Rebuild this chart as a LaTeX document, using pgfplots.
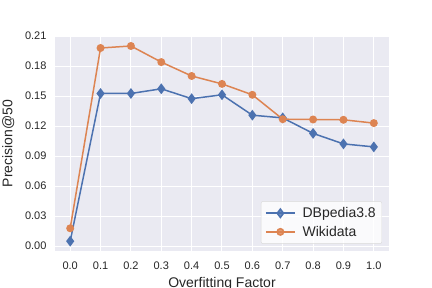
\documentclass[border=0pt]{standalone}
\usepackage{pgfplots}
\pgfplotsset{compat=1.18}
\usepackage{fontspec}
\setmainfont{Liberation Sans}
\definecolor{bgc}{HTML}{EAEAF2}
\definecolor{sblue}{HTML}{4C72B0}
\definecolor{sorange}{HTML}{DD8452}
\definecolor{txt}{HTML}{262626}
\begin{document}
\begin{tikzpicture}[x=1pt,y=1pt]
\path[use as bounding box] (0,0) rectangle (432,288);
\begin{axis}[
  at={(55pt,37pt)}, anchor=south west,
  scale only axis, width=334pt, height=215pt,
  xmin=-0.05, xmax=1.05, ymin=-0.0049, ymax=0.2101,
  axis background/.style={fill=bgc},
  axis line style={draw=none},
  major tick length=0pt,
  grid=major,
  major grid style={white, line width=1pt},
  xtick={0,0.1,...,1.0},
  ytick={0,0.03,0.06,0.09,0.12,0.15,0.18,0.21},
  xticklabel style={/pgf/number format/fixed,/pgf/number format/fixed zerofill,/pgf/number format/precision=1,font=\fontsize{11}{13}\selectfont, text=txt, yshift=-7pt},
  yticklabel style={/pgf/number format/fixed,/pgf/number format/fixed zerofill,/pgf/number format/precision=2,font=\fontsize{11}{13}\selectfont, text=txt, xshift=-5pt},
  /pgf/number format/assume math mode=true,
  scaled ticks=false,
  xlabel={Overfitting Factor},
  ylabel={Precision@50},
  label style={font=\fontsize{14}{16}\selectfont, text=txt},
  xlabel style={yshift=-1pt},
  ylabel style={yshift=4pt},
  legend style={font=\fontsize{14}{16}\selectfont, nodes={font=\fontsize{14}{16}\selectfont, text=txt}, fill=white, fill opacity=0.8, text opacity=1, draw=black!15, rounded corners=2pt, at={(0.979,0.033)}, anchor=south east, row sep=3pt, column sep=5pt, inner xsep=4pt, inner ysep=4pt},
  legend cell align=left,
  legend image code/.code={\draw[#1, line width=1.5pt] (0pt,0pt) -- (29pt,0pt); \draw[#1, line width=1.5pt] plot coordinates {(14.5pt,0pt)};},
]
\addplot[sblue, line width=1.5pt, mark=diamond*, mark size=4.2pt, mark options={solid, fill=sblue, draw=sblue}] coordinates {
(0.0,0.0049) (0.1,0.1526) (0.2,0.1526) (0.3,0.1573) (0.4,0.1474) (0.5,0.1513)
(0.6,0.1309) (0.7,0.1282) (0.8,0.1127) (0.9,0.1022) (1.0,0.0992)};
\addlegendentry{DBpedia3.8}
\addplot[sorange, line width=1.5pt, mark=*, mark size=3.2pt, mark options={solid, fill=sorange, draw=sorange}] coordinates {
(0.0,0.0178) (0.1,0.1981) (0.2,0.2001) (0.3,0.1840) (0.4,0.1701) (0.5,0.1622)
(0.6,0.1513) (0.7,0.1269) (0.8,0.1266) (0.9,0.1263) (1.0,0.1230)};
\addlegendentry{Wikidata}
\end{axis}
\end{tikzpicture}
\end{document}
